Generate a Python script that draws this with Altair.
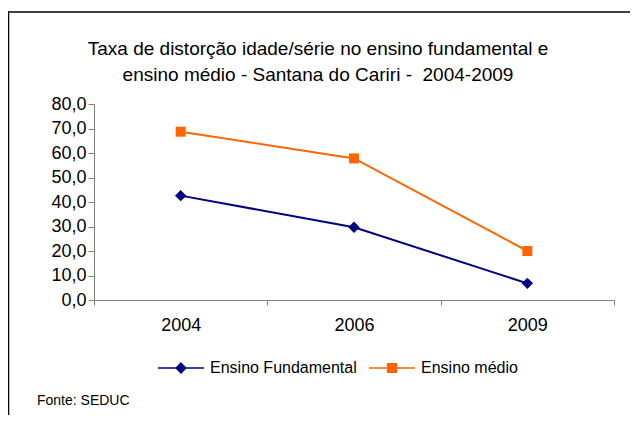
import altair as alt
import pandas as pd

years = ["2004", "2006", "2009"]
fundamental = [42.6, 29.7, 6.8]
medio = [68.7, 57.8, 20.0]
series_names = ["Ensino Fundamental", "Ensino médio"]
colors = ["#000080", "#FF6600"]
title_lines = ["Taxa de distorção idade/série no ensino fundamental e",
               "ensino médio - Santana do Cariri - \u00a02004-2009"]
source_text = ["Fonte: SEDUC"]
y_ticks = [0, 10, 20, 30, 40, 50, 60, 70, 80]

df = pd.DataFrame({
    "ano": years * 2,
    "serie": [series_names[0]] * len(years) + [series_names[1]] * len(years),
    "valor": fundamental + medio,
})

FONT = "Liberation Sans"
W, H = 520, 196

x_enc = alt.X("ano:N",
              scale=alt.Scale(type="band", domain=years, paddingInner=0, paddingOuter=0),
              axis=alt.Axis(title=None, labelAngle=0, tickBand="extent", tickSize=5,
                            labelFontSize=18, labelFont=FONT, labelColor="black",
                            labelPadding=11, domainColor="#808080", tickColor="#808080",
                            grid=False))
y_enc = alt.Y("valor:Q",
              scale=alt.Scale(domain=[0, 80], nice=False),
              axis=alt.Axis(title=None, values=y_ticks, grid=False, tickSize=6,
                            labelExpr="replace(format(datum.value, '.1f'), '.', ',')",
                            labelFontSize=18, labelFont=FONT, labelColor="black",
                            labelPadding=2, domainColor="#808080", tickColor="#808080"))
# data-driven domain (sorted: "Ensino Fundamental" < "Ensino médio")
color_enc = alt.Color("serie:N", scale=alt.Scale(range=colors), legend=None)

base = alt.Chart(df)
lines = base.mark_line(strokeWidth=2).encode(x=x_enc, y=y_enc, color=color_enc, detail="serie:N")
pts_f = base.transform_filter(alt.datum.serie == series_names[0]).mark_point(
    shape="diamond", filled=True, size=130, opacity=1).encode(x=x_enc, y=y_enc, color=color_enc)
pts_m = base.transform_filter(alt.datum.serie == series_names[1]).mark_point(
    shape="square", filled=True, size=100, opacity=1).encode(x=x_enc, y=y_enc, color=color_enc)

leg_paths = ["M-1,0H1M0,-0.21L0.21,0L0,0.21L-0.21,0Z",
             "M-1,0H1M-0.19,-0.19H0.19V0.19H-0.19Z"]
legend = alt.Legend(title=None, orient="none", legendX=63, legendY=240, direction="horizontal",
                    columns=2, symbolSize=2116, symbolStrokeWidth=1.5, labelFontSize=16,
                    labelFont=FONT, labelColor="black", labelOffset=5, columnPadding=9,
                    padding=0, symbolOpacity=1)
leg_layer = base.transform_filter("false").mark_point(filled=True, opacity=1).encode(
    x=x_enc, y=y_enc,
    fill=alt.Fill("serie:N", scale=alt.Scale(domain=series_names, range=colors), legend=legend),
    stroke=alt.Stroke("serie:N", scale=alt.Scale(domain=series_names, range=colors), legend=legend),
    shape=alt.Shape("serie:N", scale=alt.Scale(domain=series_names, range=leg_paths), legend=legend),
)

one = pd.DataFrame({"t": source_text})
title_mark = alt.Chart(one).mark_text(text=title_lines, align="center", baseline="alphabetic",
                                      fontSize=19, font=FONT, color="black", lineHeight=26).encode(
    x=alt.value(224), y=alt.value(-49))
fonte = alt.Chart(one).mark_text(align="left", baseline="alphabetic", fontSize=14, font=FONT,
                                 color="black").encode(
    text="t:N", x=alt.value(-57), y=alt.value(301))
frame_v = alt.Chart(one).mark_rule(color="black", strokeWidth=1.5).encode(
    x=alt.value(-85.5), x2=alt.value(-85.5), y=alt.value(-92.75), y2=alt.value(340))
frame_h = alt.Chart(one).mark_rule(color="black", strokeWidth=1.5).encode(
    x=alt.value(-86.25), x2=alt.value(560), y=alt.value(-92))

chart = alt.layer(lines, pts_f, pts_m, leg_layer, title_mark, fonte, frame_v, frame_h).properties(
    width=W, height=H,
    autosize=alt.AutoSizeParams(type="none"),
    padding={"left": 86, "top": 96, "right": 16, "bottom": 115},
    background="white",
).configure_view(stroke=None)

chart.save("out.html", embed_options={"renderer": "svg", "actions": False})
